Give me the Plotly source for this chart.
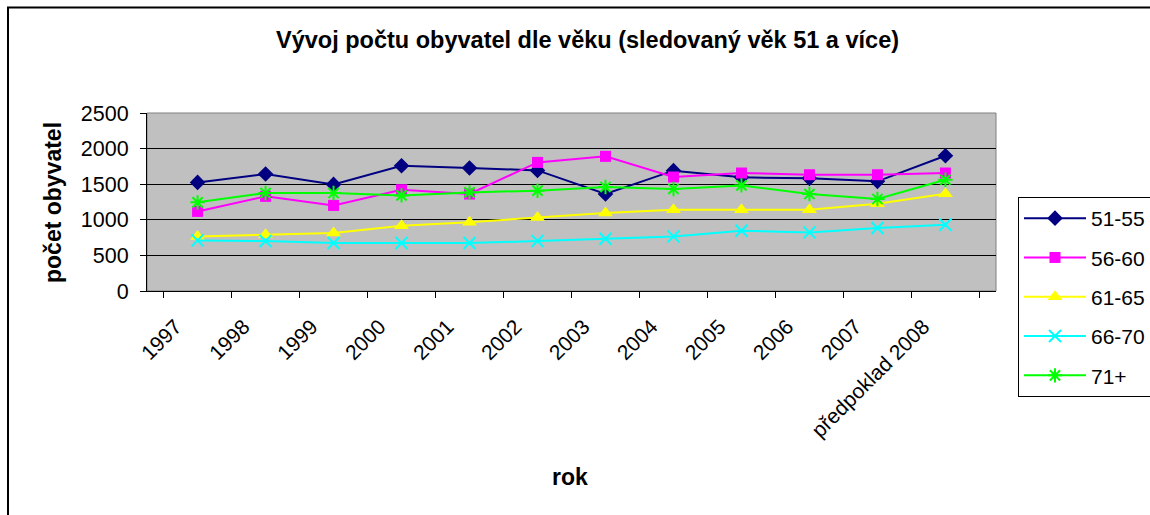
import plotly.graph_objects as go

years = ["1997", "1998", "1999", "2000", "2001", "2002", "2003", "2004",
         "2005", "2006", "2007", "předpoklad 2008"]

s51_55 = [1525, 1643, 1497, 1760, 1727, 1694, 1362, 1690, 1596, 1582, 1540, 1900]
s56_60 = [1118, 1329, 1202, 1423, 1362, 1806, 1891, 1601, 1657, 1633, 1633, 1657]
s61_65 = [767, 791, 815, 917, 964, 1034, 1095, 1142, 1142, 1142, 1226, 1367]
s66_70 = [711, 702, 674, 674, 674, 702, 735, 767, 847, 823, 885, 931]
s71p = [1245, 1376, 1376, 1343, 1385, 1409, 1461, 1433, 1483, 1362, 1292, 1563]

series = [
    ("51-55", s51_55, "#000080", "diamond", 12),
    ("56-60", s56_60, "#FF00FF", "square", 11),
    ("61-65", s61_65, "#FFFF00", "triangle-up", 13),
    ("66-70", s66_70, "#00FFFF", "x-thin-open", 12),
    ("71+", s71p, "#00FF00", "asterisk-open", 12),
]

FONT = "Liberation Sans, Arial, sans-serif"

fig = go.Figure()
for name, vals, color, sym, size in series:
    marker = dict(symbol=sym, size=size, color=color)
    if sym.endswith("open"):
        marker["line"] = dict(color=color, width=2)
    fig.add_trace(go.Scatter(
        x=years, y=vals, name=name, mode="lines+markers",
        line=dict(color=color, width=2), marker=marker,
        legendgroup=name,
    ))

L, R, T, B = 147, 154, 113, 224
W, H = 1150, 515
pw, ph = W - L - R, H - T - B

def px(x):
    return (x - L) / pw

def py(y):
    return (H - B - y) / ph

fig.update_layout(
    width=W, height=H,
    margin=dict(l=L, r=R, t=T, b=B, autoexpand=False),
    paper_bgcolor="white",
    plot_bgcolor="#C0C0C0",
    font=dict(family=FONT, size=21, color="black"),
    showlegend=True,
    legend=dict(
        xref="container", yref="container",
        x=1018 / W, y=1 - 197 / H, xanchor="left", yanchor="top",
        bgcolor="white", bordercolor="black", borderwidth=1,
        font=dict(family=FONT, size=21, color="black"),
        itemwidth=62, tracegroupgap=9, traceorder="grouped",
        maxheight=400,
    ),
    xaxis=dict(
        type="category", tickson="boundaries", ticks="outside", ticklen=6,
        tickcolor="black", tickangle=-45, showgrid=False,
        showline=True, linecolor="black", linewidth=1,
        ticklabelshift=-22, ticklabelstandoff=14,
        tickfont=dict(family=FONT, size=21, color="black"),
    ),
    yaxis=dict(
        range=[0, 2500], dtick=500, ticks="outside", ticklen=6,
        tickcolor="black", showgrid=True, gridcolor="black", gridwidth=1,
        showline=True, linecolor="black", linewidth=1, zeroline=False,
        ticklabelstandoff=7,
        tickfont=dict(family=FONT, size=21.5, color="black"),
    ),
    shapes=[
        dict(type="rect", xref="paper", yref="paper", x0=0, x1=1, y0=0, y1=1,
             line=dict(color="#808080", width=1), layer="below"),
        dict(type="rect", xref="paper", yref="paper",
             x0=px(8), x1=px(1170), y0=py(540), y1=py(7.5),
             line=dict(color="black", width=2)),
    ],
    annotations=[
        dict(text="<b>Vývoj počtu obyvatel dle věku (sledovaný věk 51 a více)</b>",
             xref="paper", yref="paper", x=px(587), y=py(40),
             xanchor="center", yanchor="middle", showarrow=False,
             font=dict(family=FONT, size=23.5, color="black")),
        dict(text="<b>počet obyvatel</b>", textangle=-90,
             xref="paper", yref="paper", x=px(53), y=py(203),
             xanchor="center", yanchor="middle", showarrow=False,
             font=dict(family=FONT, size=23, color="black")),
        dict(text="<b>rok</b>",
             xref="paper", yref="paper", x=px(570), y=py(477),
             xanchor="center", yanchor="middle", showarrow=False,
             font=dict(family=FONT, size=23, color="black")),
    ],
)

fig.write_html(
    "out.html",
    config={"displayModeBar": False},
    post_script="document.body.style.margin='0px';document.body.style.overflow='hidden';",
)
